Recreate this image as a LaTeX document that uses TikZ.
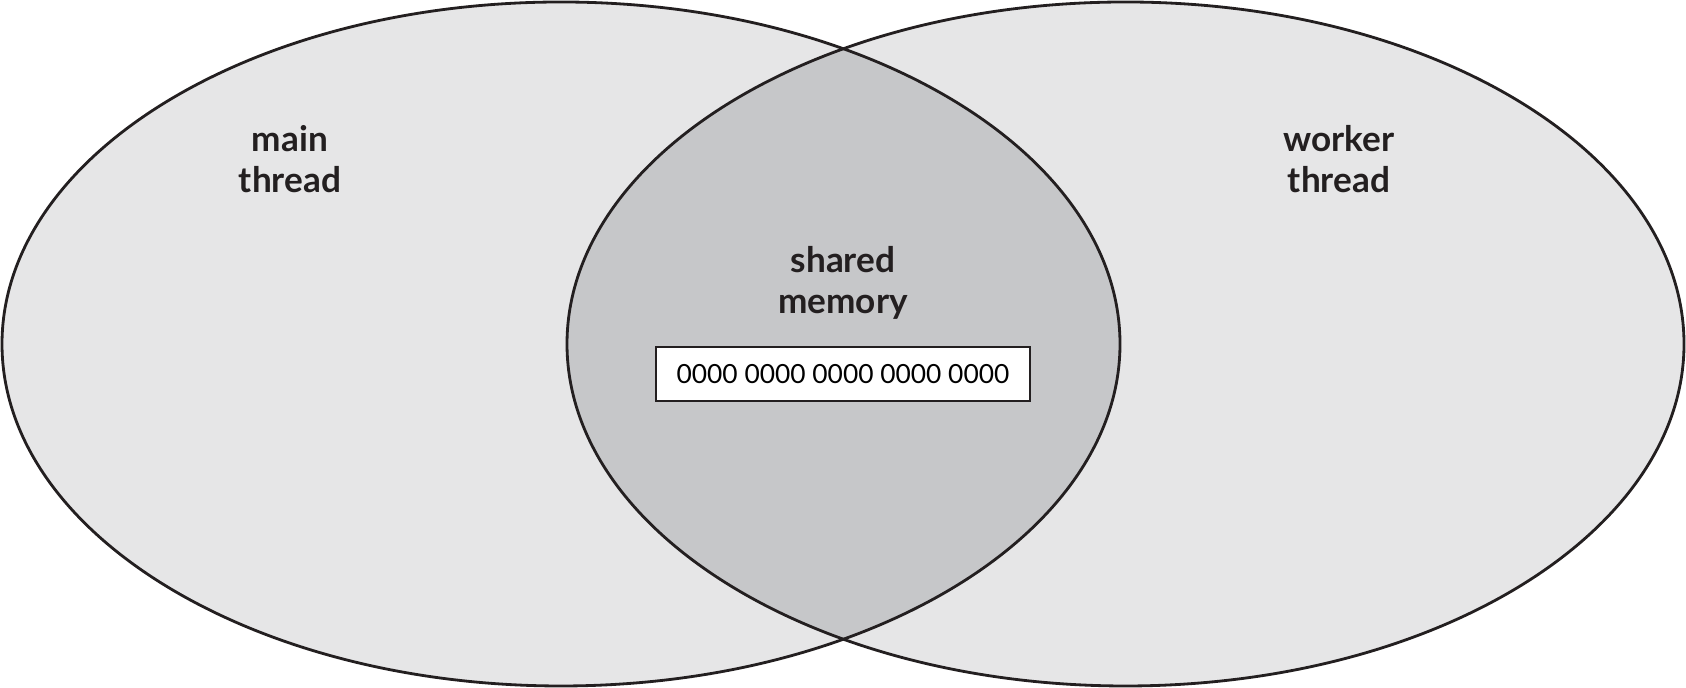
\documentclass[tikz,border=0pt]{standalone}
\usepackage{fontspec}
\setmainfont{Lato}
\usetikzlibrary{positioning}
\definecolor{ringfill}{HTML}{E6E6E7}
\definecolor{sharefill}{HTML}{C6C7C9}
\definecolor{inkline}{HTML}{231F20}
\tikzset{
  label/.style={font=\fontsize{10}{11.6}\selectfont\bfseries, text=inkline, align=center},
  membox/.style={draw=inkline, line width=0.6pt, fill=white, minimum width=3.74cm, minimum height=0.54cm, inner sep=0pt, font=\fontsize{7.5}{9}\selectfont}
}
\begin{document}
\begin{tikzpicture}
			%%%%% START %%%%%
			\useasboundingbox (0, 0) rectangle (16.86, 6.88);
			
			\fill[ringfill] (5.61, 3.44) ellipse (5.59 and 3.42);
			\fill[ringfill] (11.255, 3.44) ellipse (5.585 and 3.42);
			
			\begin{scope}
				\clip (5.61, 3.44) ellipse (5.59 and 3.42);
				\fill[sharefill] (11.255, 3.44) ellipse (5.585 and 3.42);
			\end{scope}
			
			\draw[line width=0.8pt, color=inkline] (5.61, 3.44) ellipse (5.59 and 3.42);
			\draw[line width=0.8pt, color=inkline] (11.255, 3.44) ellipse (5.585 and 3.42);
			
			\node[label] (main) at (2.90, 5.29) {main\\thread};
			\node[label] (worker) at (13.39, 5.29) {worker\\thread};
			\node[label] (shared) at (8.43, 4.05) {shared\\memory};
			\node[membox] (buffer) at (8.43, 3.14) {0000 0000 0000 0000 0000};
			
			%%%%% END %%%%%
		\end{tikzpicture}
\end{document}
